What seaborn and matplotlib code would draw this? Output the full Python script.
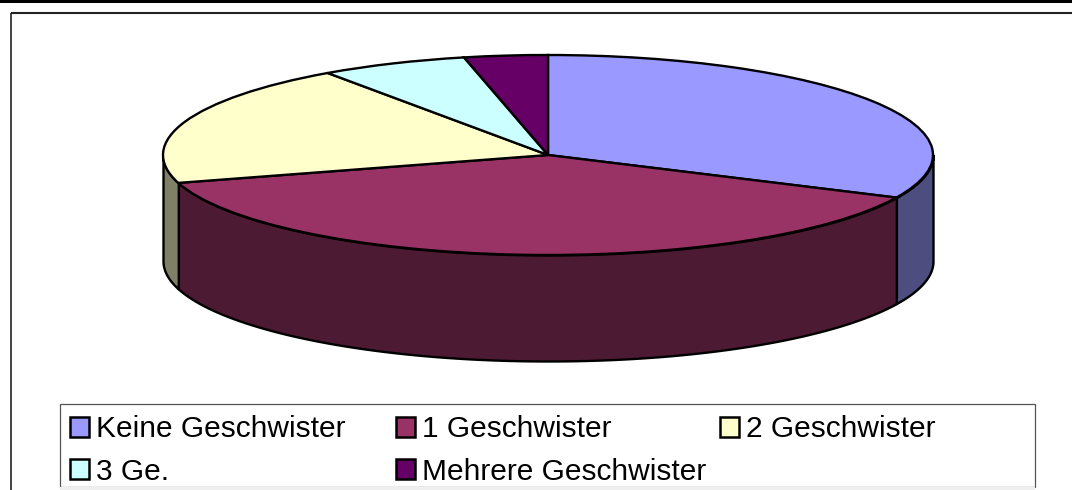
import numpy as np
import matplotlib
matplotlib.use("Agg")
import matplotlib.pyplot as plt
from matplotlib.patches import Patch, Rectangle
import seaborn as sns

categories = ["Keine Geschwister", "1 Geschwister", "2 Geschwister", "3 Ge.", "Mehrere Geschwister"]
values = [32.0, 38.5, 19.8, 6.2, 3.5]
top_colors = ["#9999FF", "#993366", "#FFFFCC", "#CCFFFF", "#660066"]
side_colors = ["#4D4D80", "#4D1A33", "#808066", "#668080", "#330033"]

sns.set_theme(style="white")
plt.rcParams["font.family"] = ["Liberation Sans", "DejaVu Sans"]

W, H = 1072, 490
fig = plt.figure(figsize=(W / 100, H / 100), dpi=100, facecolor="white")

# page decoration, in pixel coordinates
bg = fig.add_axes([0, 0, 1, 1])
bg.set_xlim(0, W)
bg.set_ylim(H, 0)
bg.axis("off")
bg.add_patch(Rectangle((0, 0), W, 3, color="black", lw=0))
bg.plot([10.5, W], [13.5, 13.5], color="#222222", lw=1.5, solid_capstyle="butt")
bg.plot([10.5, 10.5], [13, H], color="#222222", lw=1.2, solid_capstyle="butt")
bg.add_patch(Rectangle((60, 404), 975, 83, fc="white", ec="#555555", lw=0.9))
bg.add_patch(Rectangle((60, 487), 975, 3, fc="#EFEFEF", lw=0))

# pie: unit circle stretched to an ellipse by the axes limits
cx, cy, rx, ry, depth = 548, 155, 385, 100, 106
ax = fig.add_axes([0, 0, 1, 1], facecolor="none")
fracs = np.array(values) / sum(values)
edges = np.concatenate([[0], np.cumsum(fracs)]) * 360

for i, color in enumerate(side_colors):
    a = max(edges[i], 90)
    b = min(edges[i + 1], 270)
    if b <= a:
        continue
    t = np.radians(np.linspace(a, b, 200))
    x = np.sin(t)
    y = np.cos(t)
    ax.fill_between(x, y, y - depth / ry, facecolor=color, edgecolor="black", lw=1.7, zorder=1)

wedges, _ = ax.pie(values, colors=top_colors, startangle=90, counterclock=False,
                   wedgeprops=dict(edgecolor="black", linewidth=1.7, zorder=2))
for w in wedges:
    w.set_zorder(2)
ax.set_aspect("auto")
ax.set_xlim(-cx / rx, (W - cx) / rx)
ax.set_ylim((cy - H) / ry, cy / ry)
ax.set_axis_off()

# legend: one frameless column per position
handles = [Patch(facecolor=c, edgecolor="black", linewidth=1.8) for c in top_colors]
columns = [([0, 3], 63), ([1, 4], 389), ([2], 713)]
for idx, px in columns:
    leg = fig.legend([handles[i] for i in idx], [categories[i] for i in idx],
                     loc="upper left", bbox_to_anchor=(px / W, 1 - 408 / H),
                     frameon=False, fontsize=21.5, handlelength=0.62, handleheight=0.62,
                     handletextpad=0.22, labelspacing=0.47, borderpad=0.25, borderaxespad=0,
                     labelcolor="black")

fig.savefig("out.png", dpi=100)
